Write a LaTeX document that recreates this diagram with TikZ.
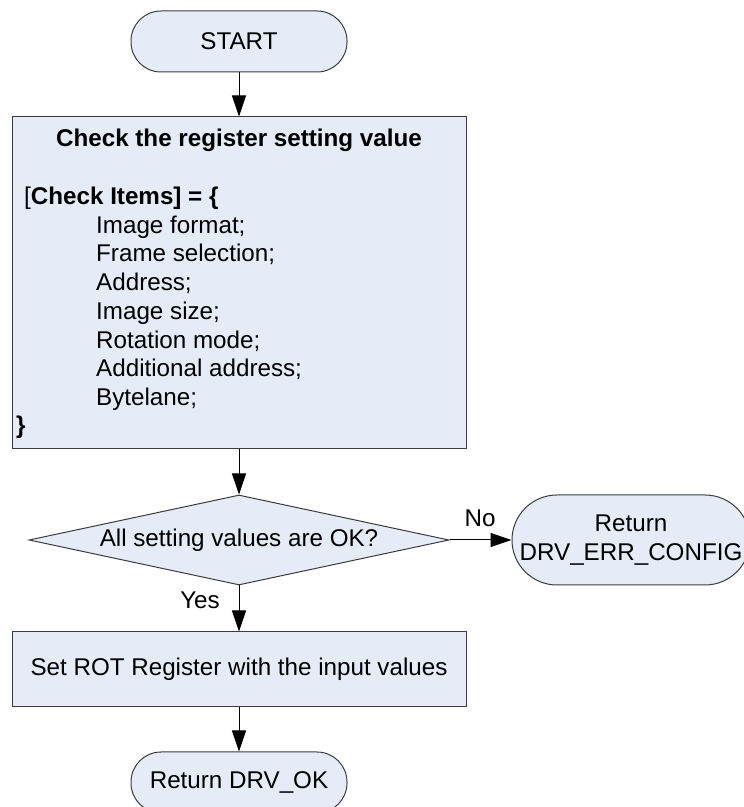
\documentclass[tikz,border=0pt]{standalone}
\usepackage{fontspec}
\setmainfont{Liberation Sans}
\usetikzlibrary{shapes.geometric,arrows.meta}
\definecolor{boxfill}{RGB}{229,235,247}
\definecolor{boxline}{RGB}{60,60,60}
\begin{document}
\begin{tikzpicture}[x=1pt,y=1pt,
  every node/.style={font=\fontsize{24.2}{29}\selectfont, inner sep=0pt},
  shapebox/.style={draw=boxline, fill=boxfill, line width=1pt},
  termbox/.style={shapebox, rectangle, rounded corners=30pt, minimum width=216pt, minimum height=61pt},
  procbox/.style={shapebox, rectangle, minimum width=454pt},
  decbox/.style={shapebox, diamond, minimum width=420pt, minimum height=90pt, aspect=4.67},
  txt/.style={anchor=base west},
  arr/.style={draw=black, line width=1pt, -{Triangle[length=21pt,width=14pt]}}
]
\useasboundingbox (0,0) rectangle (744,807);
\clip (0,0) rectangle (744,807);

\node[termbox] (start) at (239,765.5) {START};

\node[procbox, minimum height=332pt] (check) at (239,524) {};
\node[anchor=base] (title) at (239,660) {\bfseries Check the register setting value};
\node[txt] (hdr) at (24,602.4) {[\textbf{Check Items] = \{}};
\node[txt] (item1) at (96,573.7) {Image format;};
\node[txt] (item2) at (96,545.0) {Frame selection;};
\node[txt] (item3) at (96,516.3) {Address;};
\node[txt] (item4) at (96,487.6) {Image size;};
\node[txt] (item5) at (96,458.9) {Rotation mode;};
\node[txt] (item6) at (96,430.2) {Additional address;};
\node[txt] (item7) at (96,401.5) {Bytelane;};
\node[txt] (close) at (16,373) {\textbf{\}}};

\node[decbox] (dia) at (239,267) {All setting values are OK?};
\node (no) at (480,288.5) {No};
\node[shapebox, rectangle, rounded corners=45pt, minimum width=238pt, minimum height=90pt, align=center] (err) at (631,267) {Return\\DRV\_ERR\_CONFIG};
\node (yes) at (200,207) {Yes};

\node[procbox, minimum height=75pt] (set) at (239,137.5) {Set ROT Register with the input values};
\node[termbox] (ok) at (239,24.5) {Return DRV\_OK};

\draw[arr] (start) -- (check);
\draw[arr] (check) -- (dia);
\draw[arr] (dia) -- (err);
\draw[arr] (dia) -- (set);
\draw[arr] (set) -- (ok);
\end{tikzpicture}
\end{document}
